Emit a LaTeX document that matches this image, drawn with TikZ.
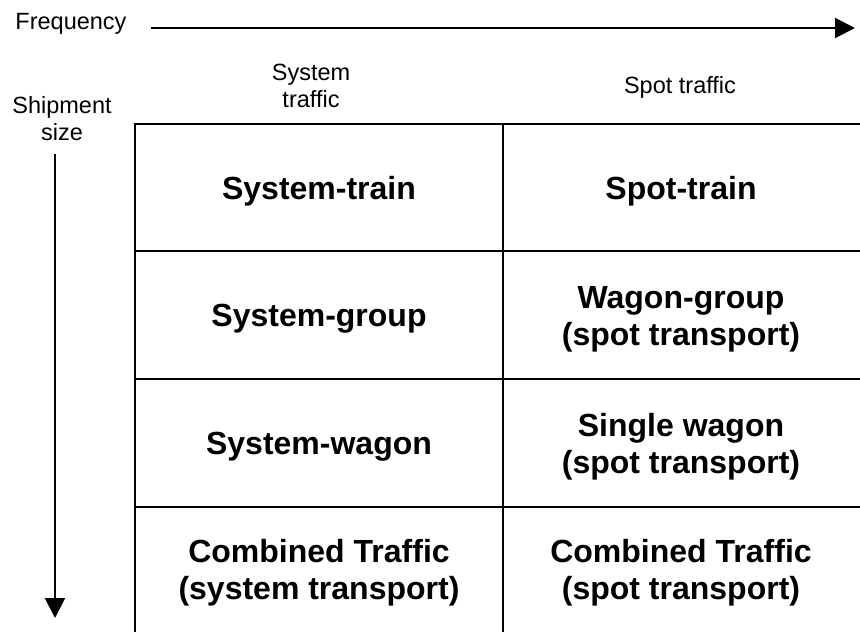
\documentclass[tikz,border=0pt]{standalone}
\usepackage{fontspec}
\setmainfont{Liberation Sans}
\usetikzlibrary{arrows.meta}
\begin{document}
\begin{tikzpicture}[x=1pt,y=-1pt,
  grid/.style={line width=2pt,line cap=rect},
  axis/.style={line width=2pt,-{Triangle[length=20pt,width=20pt]}},
  lbl/.style={font=\fontsize{23.5}{27}\selectfont,align=center,inner sep=0pt},
  cell/.style={font=\fontsize{32}{37}\bfseries\selectfont,align=center,inner sep=0pt}]
\useasboundingbox (0,0) rectangle (860,632);
\clip (0,0) rectangle (860,632);
% axes
\node[lbl] (freq) at (71,24) {Frequency};
\coordinate (fs) at (151,28);
\coordinate (fe) at (855,28);
\draw[axis] (fs) -- (fe);
\node[lbl] (ship) at (62,119) {Shipment\\size};
\coordinate (ss) at (55,154);
\coordinate (se) at (55,618);
\draw[axis] (ss) -- (se);
% column headers
\node[lbl] (h1) at (311,86) {System\\traffic};
\node[lbl] (h2) at (680,87) {Spot traffic};
% table grid
\draw[grid] (135,124) -- (880,124);
\draw[grid] (135,251) -- (880,251);
\draw[grid] (135,379) -- (880,379);
\draw[grid] (135,507) -- (880,507);
\draw[grid] (135,124) -- (135,650);
\draw[grid] (503,124) -- (503,650);
% cells
\node[cell] (c11) at (319,191) {System-train};
\node[cell] (c12) at (681,191) {Spot-train};
\node[cell] (c21) at (319,319) {System-group};
\node[cell] (c22) at (681,319) {Wagon-group\\(spot transport)};
\node[cell] (c31) at (319,447) {System-wagon};
\node[cell] (c32) at (681,447) {Single wagon\\(spot transport)};
\node[cell] (c41) at (319,573) {Combined Traffic\\(system transport)};
\node[cell] (c42) at (681,573) {Combined Traffic\\(spot transport)};
\end{tikzpicture}
\end{document}
